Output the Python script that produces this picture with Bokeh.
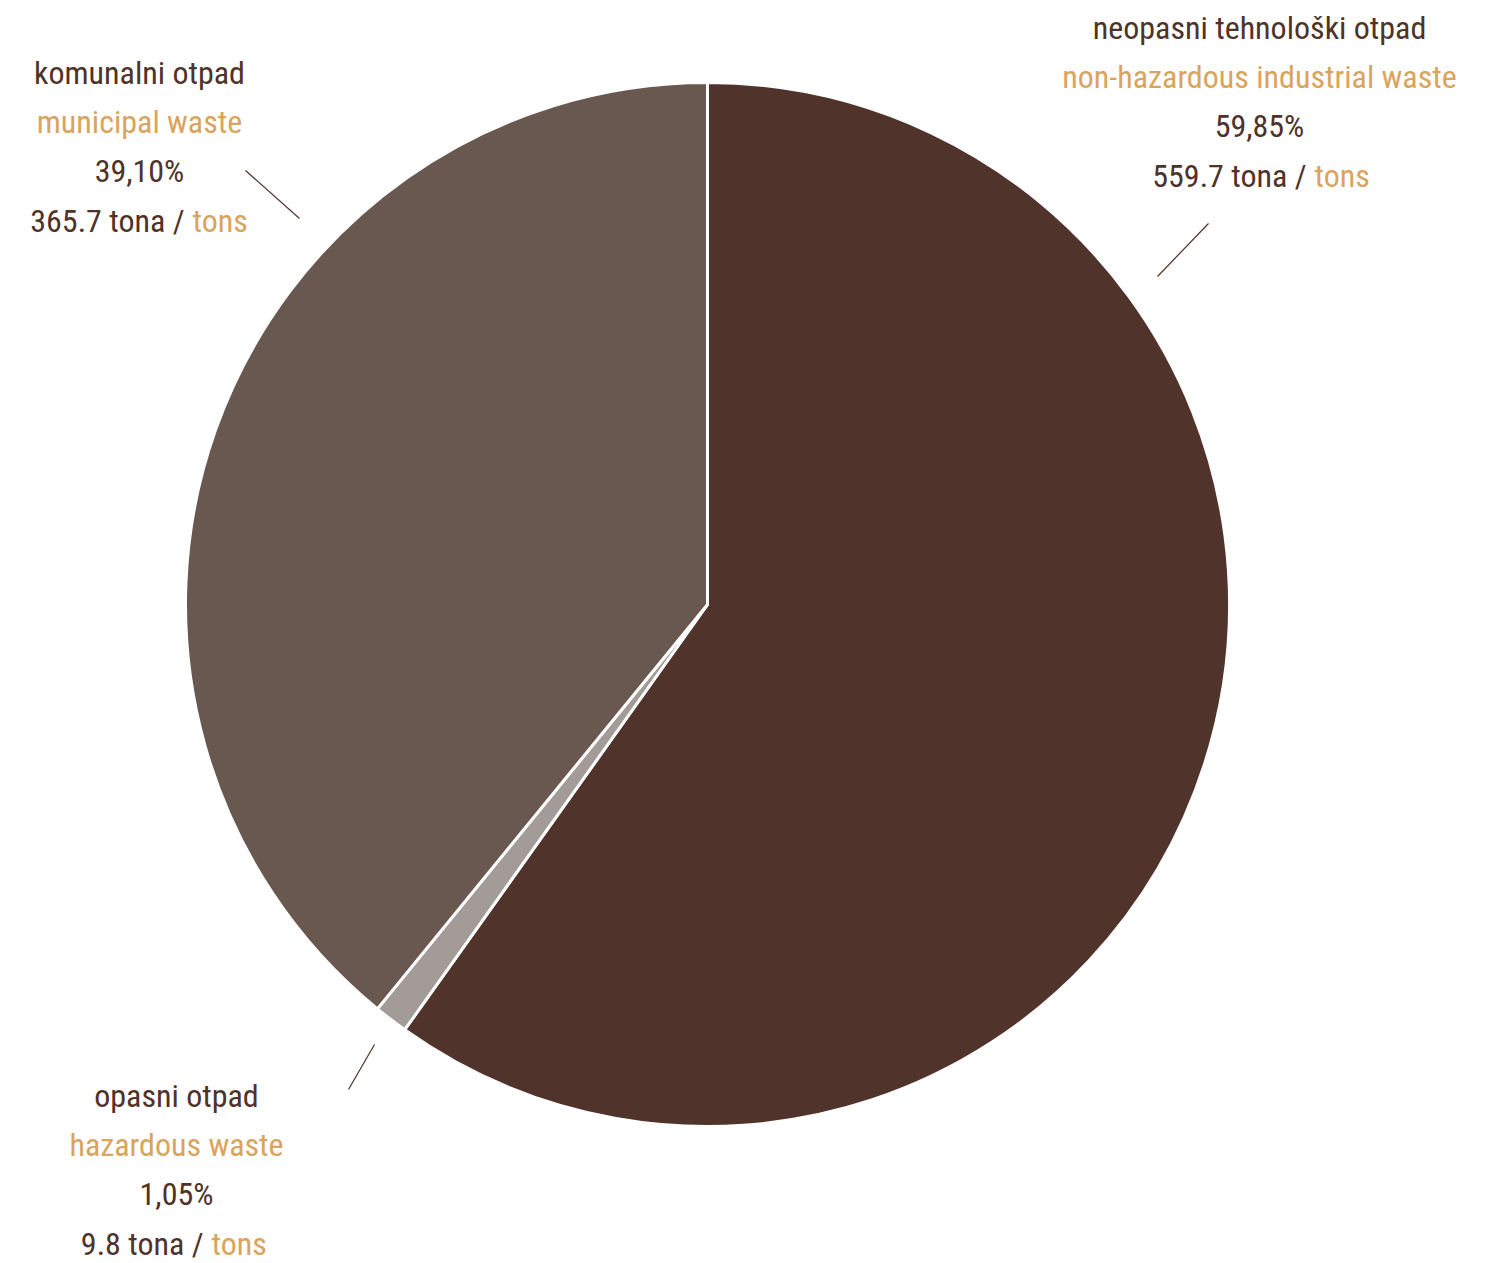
import math
from bokeh.plotting import figure
from bokeh.models import Range1d, ColumnDataSource
from bokeh.core.properties import value
from bokeh.embed import file_html
from bokeh.resources import INLINE

# ---- data ----
categories_hr = ["neopasni tehnološki otpad", "opasni otpad", "komunalni otpad"]
categories_en = ["non-hazardous industrial waste", "hazardous waste", "municipal waste"]
tons = [559.7, 9.8, 365.7]
percent_labels = ["59,85%", "1,05%", "39,10%"]
slice_colors = ["#50332a", "#a39b98", "#695850"]

DARK = "#4f3228"
GOLD = "#d9a45c"
FONT = "'Roboto Condensed', 'DejaVu Sans Condensed', 'Arial Narrow', 'Liberation Sans', sans-serif"
FS = "32px"

W, H = 1496, 1263
CX, CY, R = 707, 604, 522  # pixel coords (y from top)

def fy(y):
    return H - y

p = figure(width=W, height=H, output_backend="svg", toolbar_location=None,
           x_range=Range1d(0, W), y_range=Range1d(0, H), min_border=0,
           background_fill_color="white", border_fill_color="white")
p.axis.visible = False
p.grid.visible = False
p.outline_line_color = None

total = sum(tons)
starts, ends = [], []
cum = 0.0
for t in tons:
    starts.append(math.pi / 2 - cum / total * 2 * math.pi)
    cum += t
    ends.append(math.pi / 2 - cum / total * 2 * math.pi)

src = ColumnDataSource(dict(start=starts, end=ends, color=slice_colors))
p.wedge(x=CX, y=fy(CY), radius=R, radius_units="data", start_angle="start",
        end_angle="end", direction="clock", fill_color="color",
        line_color="white", line_width=3, source=src)

# ---- label layout: (center x, first line y, split x for last line, leader line) ----
layout = [
    dict(cx=1259, y0=27, split=1308, leader=((1157, 276), (1208, 223))),
    dict(cx=176, y0=1095, split=205, leader=((374, 1044), (348, 1089))),
    dict(cx=139, y0=72, split=186, leader=((299, 218), (245, 170))),
]
LS = 49.4

for i, L in enumerate(layout):
    ys = [L["y0"] + k * LS for k in range(4)]
    common = dict(text_font=value(FONT), text_font_size=FS, text_baseline="middle")
    p.text(x=[L["cx"]], y=[fy(ys[0])], text=[categories_hr[i]], text_color=DARK,
           text_align="center", **common)
    p.text(x=[L["cx"]], y=[fy(ys[1])], text=[categories_en[i]], text_color=GOLD,
           text_align="center", **common)
    p.text(x=[L["cx"]], y=[fy(ys[2])], text=[percent_labels[i]], text_color=DARK,
           text_align="center", **common)
    p.text(x=[L["split"] - 2], y=[fy(ys[3])], text=[f"{tons[i]} tona /"], text_color=DARK,
           text_align="right", **common)
    p.text(x=[L["split"] + 6], y=[fy(ys[3])], text=["tons"], text_color=GOLD,
           text_align="left", **common)
    (x1, y1), (x2, y2) = L["leader"]
    p.line(x=[x1, x2], y=[fy(y1), fy(y2)], line_color=DARK, line_width=1.2)

open("out.html", "w").write(file_html(p, INLINE))
